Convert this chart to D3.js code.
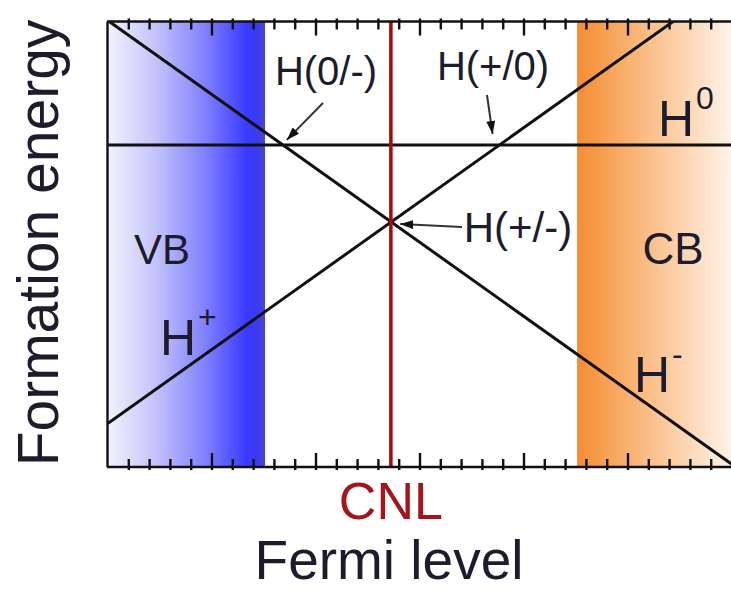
<!DOCTYPE html>
<html>
<head>
<meta charset="utf-8">
<script src="https://cdn.jsdelivr.net/npm/d3@7/dist/d3.min.js"></script>
<style>
  html, body { margin: 0; padding: 0; background: #fff; }
  svg { display: block; }
  text { font-family: "Liberation Sans", Arial, sans-serif; }
</style>
</head>
<body>
<svg id="chart" width="731" height="592"></svg>
<script>
// Fermi-level axis (arbitrary units) and formation-energy axis (arbitrary units)
const fermiDomain = [0, 6];
const energyDomain = [0, 10];
const minorStep = 0.2;
const majorEvery = 5;

// Band edges and charge neutrality level on the Fermi-level axis
const vbMax = 1.51;
const cbMin = 4.51;
const cnl = 2.72;

// Formation energy of each charge state at the two ends of the Fermi-level range
const chargeStates = ["+", "0", "-"];
const energyAtLeft = [0.98, 7.23, 10.02];
const energyAtRight = [10.94, 7.23, 0.06];

// Transition levels: pairs of charge-state indices whose lines cross
const transitions = [
  { label: "H(0/-)", pair: [1, 2] },
  { label: "H(+/0)", pair: [0, 1] },
  { label: "H(+/-)", pair: [0, 2] }
];

const svg = d3.select("#chart");
const x = d3.scaleLinear().domain(fermiDomain).range([108, 732]);
const y = d3.scaleLinear().domain(energyDomain).range([467, 21.5]);

const defs = svg.append("defs");
defs.append("clipPath").attr("id", "plot-clip")
  .append("rect")
  .attr("x", x(fermiDomain[0])).attr("y", y(energyDomain[1]))
  .attr("width", x(fermiDomain[1]) - x(fermiDomain[0]))
  .attr("height", y(energyDomain[0]) - y(energyDomain[1]));

// Valence band: pale on the left, saturated blue toward the band edge
const vbGrad = defs.append("linearGradient").attr("id", "vb-grad");
[[0, "#f1f1fd"], [0.3, "#c4c4fb"], [0.62, "#8080fc"], [0.88, "#3b3bff"], [0.95, "#3a3af0"], [1, "#4848c8"]]
  .forEach(([o, c]) => vbGrad.append("stop").attr("offset", o).attr("stop-color", c));

// Conduction band: saturated orange at the band edge fading to the right
const cbGrad = defs.append("linearGradient").attr("id", "cb-grad");
[[0, "#f58d34"], [0.12, "#f79a48"], [0.45, "#fbbd86"], [0.8, "#fde0c6"], [1, "#fff3e9"]]
  .forEach(([o, c]) => cbGrad.append("stop").attr("offset", o).attr("stop-color", c));

defs.append("marker").attr("id", "arrowhead")
  .attr("viewBox", "0 0 13 9").attr("refX", 13).attr("refY", 4.5)
  .attr("markerWidth", 13).attr("markerHeight", 9)
  .attr("markerUnits", "userSpaceOnUse").attr("orient", "auto")
  .append("path").attr("d", "M0,0 L13,4.5 L0,9 Z").attr("fill", "#111");

const plot = svg.append("g").attr("clip-path", "url(#plot-clip)");

plot.append("rect")
  .attr("x", x(fermiDomain[0])).attr("y", y(energyDomain[1]))
  .attr("width", x(vbMax) - x(fermiDomain[0]))
  .attr("height", y(energyDomain[0]) - y(energyDomain[1]))
  .attr("fill", "url(#vb-grad)");

plot.append("rect")
  .attr("x", x(cbMin)).attr("y", y(energyDomain[1]))
  .attr("width", x(fermiDomain[1]) - x(cbMin))
  .attr("height", y(energyDomain[0]) - y(energyDomain[1]))
  .attr("fill", "url(#cb-grad)");

// Charge-state formation-energy lines
const line = d3.line().x(d => x(d[0])).y(d => y(d[1]));
chargeStates.forEach((q, i) => {
  plot.append("path")
    .datum([[fermiDomain[0], energyAtLeft[i]], [fermiDomain[1], energyAtRight[i]]])
    .attr("d", line)
    .attr("fill", "none").attr("stroke", "#111").attr("stroke-width", 3);
});

// Charge neutrality level
plot.append("line")
  .attr("x1", x(cnl)).attr("x2", x(cnl))
  .attr("y1", y(energyDomain[0])).attr("y2", y(energyDomain[1]))
  .attr("stroke", "#a30a0a").attr("stroke-width", 3.5);

// Frame ticks pointing into the plot
const tickVals = d3.range(0, Math.round((fermiDomain[1] - fermiDomain[0]) / minorStep) + 1)
  .map(k => ({ v: fermiDomain[0] + k * minorStep, major: k % majorEvery === 0 }));

const axisG = svg.append("g").attr("stroke", "#111").attr("stroke-width", 2.4);
tickVals.filter(t => x(t.v) > 110 && x(t.v) < 731).forEach(t => {
  const len = t.major ? 14 : 8;
  axisG.append("line")
    .attr("x1", x(t.v)).attr("x2", x(t.v))
    .attr("y1", y(energyDomain[1]) - 3).attr("y2", y(energyDomain[1]) + len);
  axisG.append("line")
    .attr("x1", x(t.v)).attr("x2", x(t.v))
    .attr("y1", y(energyDomain[0]) + 3).attr("y2", y(energyDomain[0]) - len);
});
axisG.append("line")
  .attr("x1", x(fermiDomain[0]) - 1).attr("x2", 731)
  .attr("y1", y(energyDomain[1])).attr("y2", y(energyDomain[1]));
axisG.append("line")
  .attr("x1", x(fermiDomain[0]) - 1).attr("x2", 731)
  .attr("y1", y(energyDomain[0])).attr("y2", y(energyDomain[0]));
axisG.append("line")
  .attr("x1", x(fermiDomain[0]) - 0.5).attr("x2", x(fermiDomain[0]) - 0.5)
  .attr("y1", y(energyDomain[1])).attr("y2", y(energyDomain[0]));

// Crossing point of two charge-state lines
function crossing(i, j) {
  const span = fermiDomain[1] - fermiDomain[0];
  const si = (energyAtRight[i] - energyAtLeft[i]) / span;
  const sj = (energyAtRight[j] - energyAtLeft[j]) / span;
  const xf = fermiDomain[0] + (energyAtLeft[j] - energyAtLeft[i]) / (si - sj);
  return [x(xf), y(energyAtLeft[i] + si * (xf - fermiDomain[0]))];
}

const ink = "#1c1c2c";
const labelFont = 40;

// Transition-level annotations: label, leader and arrowhead
const annot = [
  { text: transitions[0].label, tx: 326, ty: 85, from: [323, 103], tipOff: [4, -5] },
  { text: transitions[1].label, tx: 493, ty: 80, from: [487, 95], tipOff: [-7, -11] },
  { text: transitions[2].label, tx: 518, ty: 242, from: [462, 227], tipOff: [9, 2] }
];
annot.forEach((a, k) => {
  const c = crossing(...transitions[k].pair);
  svg.append("text")
    .attr("x", a.tx).attr("y", a.ty)
    .attr("text-anchor", "middle")
    .attr("font-size", k === 2 ? 42 : labelFont)
    .attr("fill", ink)
    .text(a.text);
  svg.append("line")
    .attr("x1", a.from[0]).attr("y1", a.from[1])
    .attr("x2", c[0] + a.tipOff[0]).attr("y2", c[1] + a.tipOff[1])
    .attr("stroke", "#333").attr("stroke-width", 2)
    .attr("marker-end", "url(#arrowhead)");
});

// Charge-state labels with superscripts
const stateLabels = [
  { q: chargeStates[0], x: 160, y: 355 },
  { q: chargeStates[1], x: 658, y: 136 },
  { q: chargeStates[2], x: 634, y: 392 }
];
stateLabels.forEach(s => {
  const t = svg.append("text")
    .attr("x", s.x).attr("y", s.y)
    .attr("font-size", 50).attr("fill", ink);
  t.append("tspan").text("H");
  t.append("tspan").attr("dy", -27).attr("dx", 2).attr("font-size", 32).text(s.q);
});

// Band labels
svg.append("text").attr("x", 162).attr("y", 264).attr("text-anchor", "middle")
  .attr("font-size", 42).attr("fill", ink).text("VB");
svg.append("text").attr("x", 673).attr("y", 264).attr("text-anchor", "middle")
  .attr("font-size", 44).attr("fill", ink).text("CB");

// CNL label under the axis
svg.append("text").attr("x", x(cnl)).attr("y", 519).attr("text-anchor", "middle")
  .attr("font-size", 52).attr("fill", "#a3141c").text("CNL");

// Axis titles
svg.append("text").attr("x", 389).attr("y", 579).attr("text-anchor", "middle")
  .attr("font-size", 55).attr("fill", ink).text("Fermi level");
svg.append("text")
  .attr("transform", "translate(58,243) rotate(-90)")
  .attr("text-anchor", "middle")
  .attr("font-size", 57).attr("fill", ink).text("Formation energy");
</script>
</body>
</html>
